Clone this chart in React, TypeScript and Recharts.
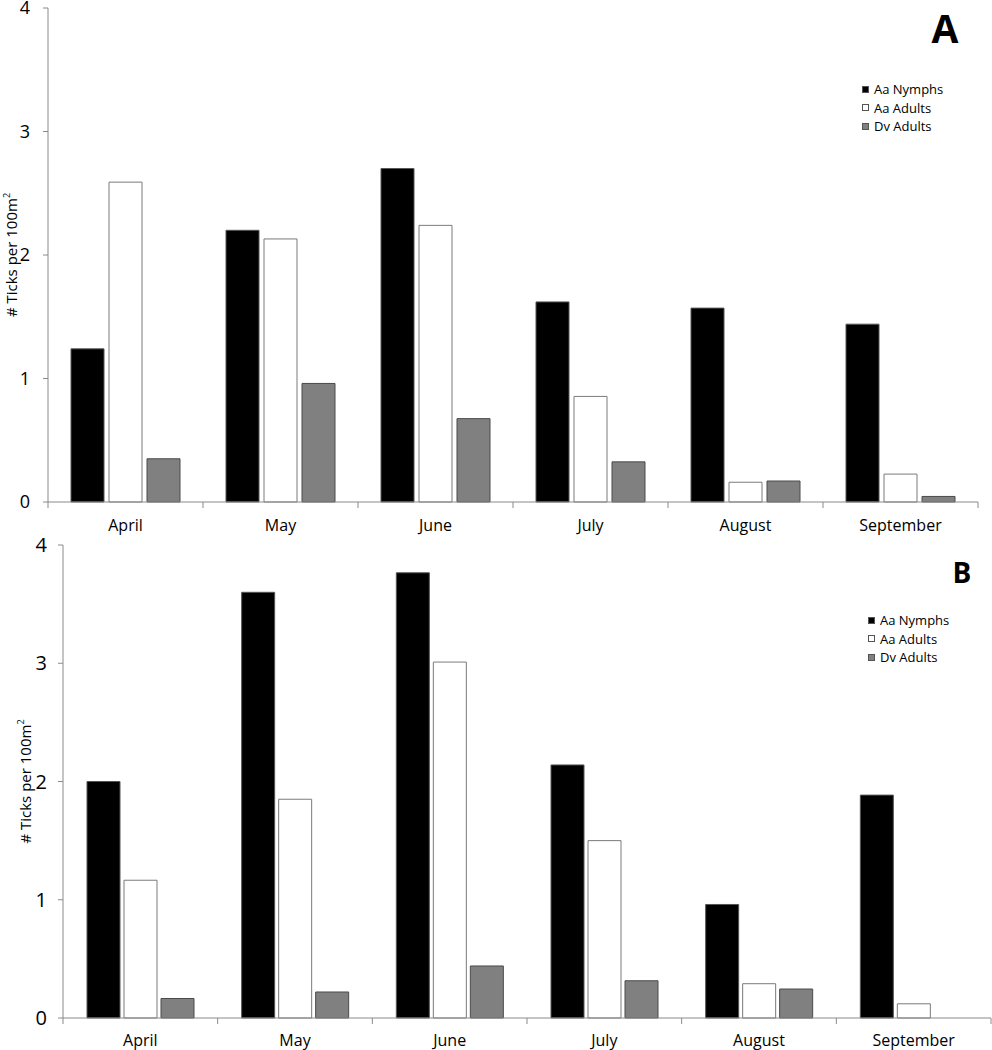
import React from 'react';
import { BarChart, Bar, XAxis, YAxis, Legend, Label } from 'recharts';

const months = ['April', 'May', 'June', 'July', 'August', 'September'];

const aaNymphsA = [1.24, 2.2, 2.7, 1.62, 1.57, 1.44];
const aaAdultsA = [2.59, 2.13, 2.24, 0.855, 0.16, 0.226];
const dvAdultsA = [0.35, 0.96, 0.675, 0.325, 0.17, 0.045];

const aaNymphsB = [2.0, 3.6, 3.765, 2.14, 0.96, 1.885];
const aaAdultsB = [1.165, 1.85, 3.01, 1.5, 0.29, 0.12];
const dvAdultsB = [0.165, 0.22, 0.44, 0.315, 0.245, 0];

const seriesNames = ['Aa Nymphs', 'Aa Adults', 'Dv Adults'];
const seriesKeys = ['nymphs', 'adults', 'dv'];
const seriesFills = ['#000000', '#ffffff', '#808080'];
const seriesStrokes = ['#555555', '#7a7a7a', '#4a4a4a'];
const yTicks = [0, 1, 2, 3, 4];

const AXIS = '#8a8a8a';
const FONT = '"Open Sans", sans-serif';

function buildRows(n: number[], a: number[], d: number[]) {
  return months.map((m, i) => ({ month: m, nymphs: n[i], adults: a[i], dv: d[i] }));
}

const dataA = buildRows(aaNymphsA, aaAdultsA, dvAdultsA);
const dataB = buildRows(aaNymphsB, aaAdultsB, dvAdultsB);

function makeMonthTick(margin: number) {
  return function MonthTick(props: any) {
    const { x, y, payload, index } = props;
    const half = payload && typeof payload.offset === 'number' ? payload.offset : 0;
    const axisY = y - margin;
    const last = index === months.length - 1;
    return (
      <g>
        {half > 0 && (
          <line x1={x - half} x2={x - half} y1={axisY} y2={axisY + 6} stroke={AXIS} strokeWidth={1} />
        )}
        {half > 0 && last && (
          <line x1={x + half} x2={x + half} y1={axisY} y2={axisY + 6} stroke={AXIS} strokeWidth={1} />
        )}
        <text x={x} y={y} dy="0.71em" textAnchor="middle" fontSize={16} fill="#000" fontFamily={FONT}>
          {payload.value}
        </text>
      </g>
    );
  };
}

function makeYLabel(dx: number) {
  return function YLabel(props: any) {
    const vb = props.viewBox || { x: 0, y: 0, width: 0, height: 0 };
    const cx = vb.x + dx;
    const cy = vb.y + vb.height / 2;
    return (
      <text
        x={cx}
        y={cy}
        transform={`rotate(-90 ${cx} ${cy})`}
        textAnchor="middle"
        dominantBaseline="central"
        fontSize={15}
        fill="#000"
        fontFamily={FONT}
      >
        # Ticks per 100m<tspan dy={-5} fontSize={9}>2</tspan>
      </text>
    );
  };
}

function LegendBox(props: any) {
  const payload = [...(props.payload || [])].sort(
    (a: any, b: any) => seriesNames.indexOf(a.value) - seriesNames.indexOf(b.value)
  );
  return (
    <div style={{ fontFamily: FONT, fontSize: 13, color: '#000' }}>
      {payload.map((e: any, i: number) => (
        <div key={i} style={{ display: 'flex', alignItems: 'center', height: 18.5, whiteSpace: 'nowrap' }}>
          <span
            style={{
              display: 'inline-block',
              width: 7,
              height: 7,
              background: e.color,
              border: '1px solid #555',
              boxSizing: 'border-box',
              marginRight: 5,
            }}
          />
          {e.value}
        </div>
      ))}
    </div>
  );
}

function Panel(props: {
  data: any[];
  width: number;
  height: number;
  margin: any;
  yWidth: number;
  yFont: number;
  yTickMargin: number;
  xTickMargin: number;
  labelDx: number;
  legendTop: number;
  legendLeft: number;
  catGap: number;
  barGap: number;
}) {
  const p = props;
  return (
    <BarChart
      width={p.width}
      height={p.height}
      data={p.data}
      margin={p.margin}
      barCategoryGap={p.catGap}
      barGap={p.barGap}
      style={{ fontFamily: FONT, overflow: 'visible' }}
    >
      <XAxis
        dataKey="month"
        height={30}
        axisLine={{ stroke: AXIS }}
        tickLine={false}
        tickSize={0}
        tickMargin={p.xTickMargin}
        interval={0}
        tick={makeMonthTick(p.xTickMargin)}
      />
      <YAxis
        width={p.yWidth}
        domain={[0, 4]}
        ticks={yTicks}
        interval={0}
        axisLine={{ stroke: AXIS }}
        tickLine={{ stroke: AXIS }}
        tickSize={5}
        tickMargin={p.yTickMargin}
        tick={{ fontSize: p.yFont, fill: '#000', fontFamily: FONT }}
      >
        <Label content={makeYLabel(p.labelDx)} />
      </YAxis>
      <Legend
        layout="vertical"
        align="center"
        verticalAlign="middle"
        itemSorter={null as any}
        content={<LegendBox />}
        wrapperStyle={{ top: p.legendTop, left: p.legendLeft, width: 120, height: 60 }}
      />
      {seriesKeys.map((k, i) => (
        <Bar
          key={k}
          dataKey={k}
          name={seriesNames[i]}
          fill={seriesFills[i]}
          stroke={seriesStrokes[i]}
          strokeWidth={1}
          isAnimationActive={false}
        />
      ))}
    </BarChart>
  );
}

export default function App() {
  return (
    <div style={{ position: 'absolute', left: 0, top: 0, width: 992, height: 1050, background: '#fff' }}>
      <div style={{ position: 'absolute', left: 0, top: 0 }}>
        <Panel
          data={dataA}
          width={992}
          height={535}
          margin={{ top: 8, right: 14, bottom: 3, left: 0 }}
          yWidth={48}
          yFont={18}
          yTickMargin={13}
          xTickMargin={18}
          labelDx={11}
          legendTop={80}
          legendLeft={862}
          catGap={23}
          barGap={5}
        />
      </div>
      <div style={{ position: 'absolute', left: 0, top: 525 }}>
        <Panel
          data={dataB}
          width={992}
          height={525}
          margin={{ top: 20, right: 1, bottom: 2, left: 0 }}
          yWidth={63}
          yFont={20}
          yTickMargin={11}
          xTickMargin={17}
          labelDx={25}
          legendTop={86}
          legendLeft={868}
          catGap={24}
          barGap={4}
        />
      </div>
      <svg
        width={992}
        height={1050}
        style={{ position: 'absolute', left: 0, top: 0, pointerEvents: 'none' }}
      >
        <text x={945} y={43} textAnchor="middle" fontSize={39} fontWeight="bold" fill="#000" fontFamily={FONT}>
          A
        </text>
        <text x={962} y={583} textAnchor="middle" fontSize={28} fontWeight="bold" fill="#000" fontFamily={FONT}>
          B
        </text>
      </svg>
    </div>
  );
}
